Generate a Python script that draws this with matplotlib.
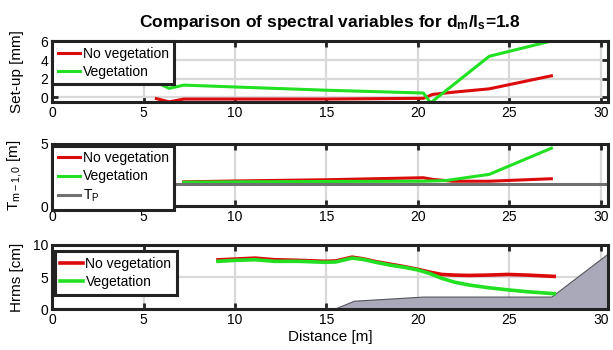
import matplotlib
matplotlib.use("Agg")
import matplotlib.pyplot as plt

plt.rcParams.update({
    "font.family": "Liberation Sans",
    "font.size": 10,
    "mathtext.fontset": "custom",
    "mathtext.rm": "Liberation Sans",
    "mathtext.it": "Liberation Sans",
    "mathtext.bf": "Liberation Sans:bold",
})

red = '#dc0a0a'
green = '#22e022'
gray = '#707070'

# set-up [mm]
setup_x_noveg = [5.7, 6.4, 7.2, 10, 15, 20.3, 20.8, 22.0, 23.9, 27.3]
setup_noveg = [-0.15, -0.5, -0.2, -0.2, -0.2, -0.12, 0.3, 0.55, 0.9, 2.3]
setup_x_veg = [5.6, 6.4, 7.2, 10, 15, 20.3, 20.7, 23.9, 27.3]
setup_veg = [1.7, 0.95, 1.3, 1.1, 0.75, 0.45, -0.6, 4.4, 6.05]

# T_m-1,0 [m]
tm_x_noveg = [7.2, 10, 15, 20.3, 20.8, 21.9, 23.9, 27.3]
tm_noveg = [1.95, 2.02, 2.12, 2.28, 2.15, 2.0, 2.0, 2.2]
tm_x_veg = [7.2, 10, 15, 20.3, 21.5, 23.9, 27.3]
tm_veg = [1.92, 1.95, 1.98, 2.0, 2.05, 2.55, 4.65]
tp = 1.75

# Hrms [cm]
h_x = [9.07, 10, 11.1, 12.15, 13.5, 14.9, 15.5, 16.4, 17.0, 17.7, 18.5, 19.3,
       20.0, 20.6, 21.3, 22.0, 22.8, 23.8, 24.9, 26.0, 27.45]
h_noveg = [7.68, 7.8, 7.95, 7.7, 7.6, 7.45, 7.5, 8.1, 7.85, 7.4, 7.0, 6.6,
           6.2, 5.8, 5.4, 5.3, 5.25, 5.3, 5.4, 5.3, 5.1]
h_veg = [7.45, 7.6, 7.7, 7.45, 7.45, 7.3, 7.35, 7.95, 7.75, 7.3, 6.85, 6.5,
         6.1, 5.6, 4.8, 4.2, 3.75, 3.35, 3.0, 2.7, 2.4]

# bed profile
bed_x = [15.4, 16.5, 20.3, 27.3, 31.0]
bed_z = [0, 1.3, 1.95, 1.95, 10.0]

xticks = [0, 5, 10, 15, 20, 25, 30]

fig = plt.figure(figsize=(6.13, 3.5), dpi=100)
ax1 = fig.add_axes([0.085, 0.709, 0.907, 0.174])
ax2 = fig.add_axes([0.085, 0.411, 0.907, 0.178])
ax3 = fig.add_axes([0.085, 0.117, 0.907, 0.183])


def style(ax, yticks, ylim):
    ax.set_xlim(0, 30.4)
    ax.set_ylim(*ylim)
    ax.set_xticks(xticks)
    ax.set_yticks(yticks)
    ax.grid(True, color='#d9d9d9', lw=1.6)
    ax.set_axisbelow(True)
    for s in ax.spines.values():
        s.set_linewidth(2.2)
        s.set_color('#222222')
        s.set_zorder(5)
    ax.tick_params(direction='in', length=4.5, width=2, color='#222222',
                   top=True, right=True, labelsize=10, pad=3)
    ax.yaxis.set_label_coords(-0.05, 0.5)


def legend(ax, anchor):
    leg = ax.legend(loc='upper left', bbox_to_anchor=anchor, borderaxespad=0,
                    fancybox=False, framealpha=1, edgecolor='#222222',
                    handlelength=1.6, handletextpad=0.2, borderpad=0.4,
                    labelspacing=0.3, fontsize=10)
    leg.get_frame().set_linewidth(2.2)
    leg.set_zorder(6)


# panel 1
ax1.plot(setup_x_noveg, setup_noveg, color=red, lw=2.2, label='No vegetation')
ax1.plot(setup_x_veg, setup_veg, color=green, lw=2.2, label='Vegetation')
style(ax1, [0, 2, 4, 6], (-0.5, 6.05))
ax1.set_ylabel('Set-up [mm]', fontsize=11)
legend(ax1, (0, 1))

# panel 2
ax2.plot(tm_x_noveg, tm_noveg, color=red, lw=2.2, label='No vegetation')
ax2.plot(tm_x_veg, tm_veg, color=green, lw=2.2, label='Vegetation')
ax2.axhline(tp, color=gray, lw=2.2, label=r'T$_\mathrm{P}$')
style(ax2, [0, 5], (0, 5))
ax2.set_ylabel(r'T$_\mathrm{m-1,0}$ [m]', fontsize=11)
legend(ax2, (0, 0.97))

# panel 3
ax3.fill_between(bed_x, 0, bed_z, color='#a9a9b9', edgecolor='#555560', lw=0.8)
ax3.plot(h_x, h_noveg, color=red, lw=2.6, label='No vegetation')
ax3.plot(h_x, h_veg, color=green, lw=2.6, label='Vegetation')
style(ax3, [0, 5, 10], (0, 10))
ax3.set_ylabel('Hrms [cm]', fontsize=11)
ax3.set_xlabel('Distance [m]', fontsize=11, labelpad=2)
legend(ax3, (0.005, 0.9))

fig.text(0.538, 0.937, r'Comparison of spectral variables for d$_\mathbf{m}$/l$_\mathbf{s}$=1.8',
         ha='center', va='center', fontsize=12.5, fontweight='bold')

fig.savefig('out.png', dpi=100)
